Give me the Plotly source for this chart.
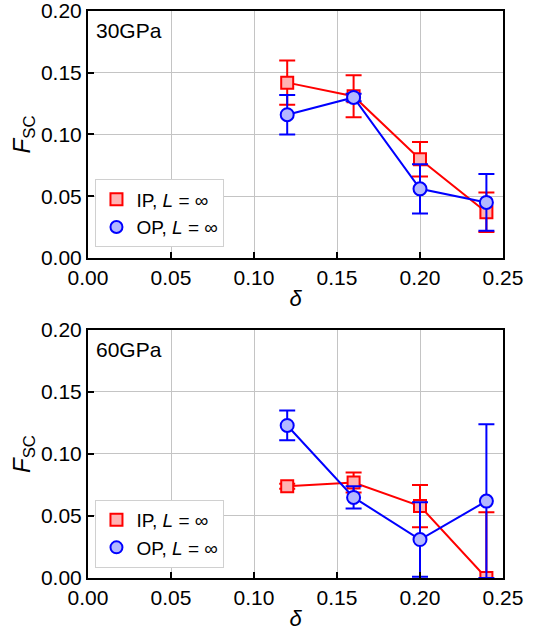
import plotly.graph_objects as go
from plotly.subplots import make_subplots

# doping levels
delta = [0.12, 0.16, 0.20, 0.24]

# 30 GPa
ip30 = [0.142, 0.131, 0.080, 0.037]
ip30_err = [0.018, 0.017, 0.014, 0.016]
op30 = [0.116, 0.130, 0.056, 0.045]
op30_err = [0.016, 0.003, 0.020, 0.023]

# 60 GPa
ip60 = [0.074, 0.077, 0.058, 0.0]
ip60_err = [0.002, 0.008, 0.017, 0.053]
op60 = [0.123, 0.065, 0.031, 0.062]
op60_err = [0.012, 0.009, 0.030, 0.062]

x_ticks = [0.00, 0.05, 0.10, 0.15, 0.20, 0.25]
y_ticks = [0.00, 0.05, 0.10, 0.15, 0.20]
panels = ["30GPa", "60GPa"]

RED, RED_FILL = "#ff0000", "#ffb3b3"
BLUE, BLUE_FILL = "#0000ff", "#b3b8ff"
FONT = "Liberation Sans, Arial, sans-serif"
LEG_LABEL_IP = "IP, <i>L</i> = ∞"
LEG_LABEL_OP = "OP, <i>L</i> = ∞"

fig = make_subplots(rows=2, cols=1, vertical_spacing=0.127)

series = [(ip30, ip30_err, op30, op30_err), (ip60, ip60_err, op60, op60_err)]
domains = [[0.5644, 1.0], [0.0, 0.4374]]
for i, (ip, ipe, op, ope) in enumerate(series):
    row = i + 1
    legend_name = "legend" if i == 0 else "legend2"
    fig.add_trace(go.Scatter(
        x=delta, y=ip, mode="lines+markers", showlegend=False,
        line=dict(color=RED, width=2),
        marker=dict(symbol="square", size=12, color=RED_FILL, line=dict(color=RED, width=2)),
        error_y=dict(type="data", array=ipe, color=RED, thickness=2, width=8),
    ), row=row, col=1)
    fig.add_trace(go.Scatter(
        x=delta, y=op, mode="lines+markers", showlegend=False,
        line=dict(color=BLUE, width=2),
        marker=dict(symbol="circle", size=13, color=BLUE_FILL, line=dict(color=BLUE, width=2)),
        error_y=dict(type="data", array=ope, color=BLUE, thickness=2, width=8),
    ), row=row, col=1)
    # legend entries (marker only)
    fig.add_trace(go.Scatter(
        x=[None], y=[None], mode="markers", name=LEG_LABEL_IP, legend=legend_name,
        marker=dict(symbol="square", size=12, color=RED_FILL, line=dict(color=RED, width=2)),
    ), row=row, col=1)
    fig.add_trace(go.Scatter(
        x=[None], y=[None], mode="markers", name=LEG_LABEL_OP, legend=legend_name,
        marker=dict(symbol="circle", size=13, color=BLUE_FILL, line=dict(color=BLUE, width=2)),
    ), row=row, col=1)

    fig.update_xaxes(
        range=[0, 0.25], tickvals=x_ticks, ticktext=[f"{v:.2f}" for v in x_ticks],
        showgrid=True, gridcolor="#c4c4c4", gridwidth=1,
        showline=True, linecolor="black", linewidth=2, mirror=True,
        ticks="inside", ticklen=6, tickwidth=1.5, tickcolor="black",
        zeroline=False, automargin=False, ticklabeloverflow="allow",
        tickfont=dict(size=21, color="black", family=FONT),
        title=dict(text="<i>δ</i>", font=dict(size=22, color="black", family=FONT), standoff=2),
        row=row, col=1,
    )
    fig.update_yaxes(
        range=[0, 0.20], tickvals=y_ticks, ticktext=[f"{v:.2f}" for v in y_ticks],
        showgrid=True, gridcolor="#c4c4c4", gridwidth=1,
        showline=True, linecolor="black", linewidth=2, mirror=True,
        ticks="inside", ticklen=6, tickwidth=1.5, tickcolor="black",
        zeroline=False, automargin=False, domain=domains[i], ticklabeloverflow="allow",
        tickfont=dict(size=21, color="black", family=FONT),
        title=dict(text="<i>F</i><sub>SC</sub>", font=dict(size=24, color="black", family=FONT), standoff=4),
        row=row, col=1,
    )
    xr = "x domain" if i == 0 else "x2 domain"
    yr = "y domain" if i == 0 else "y2 domain"
    fig.add_annotation(
        text=panels[i], xref=xr, yref=yr, x=0.015, y=0.975, xanchor="left", yanchor="top",
        showarrow=False, font=dict(size=21, color="black", family=FONT),
    )

legend_style = dict(
    bgcolor="white", bordercolor="#d0d0d0", borderwidth=1,
    font=dict(size=19, color="black", family=FONT),
    xanchor="left", yanchor="bottom", tracegroupgap=0, itemsizing="constant",
    itemwidth=30,
)
fig.update_layout(
    width=543, height=631,
    margin=dict(l=88, r=40, t=11, b=53),
    paper_bgcolor="white", plot_bgcolor="white",
    font=dict(family=FONT, color="black"),
    legend=dict(x=0.018, y=0.583, **legend_style),
    legend2=dict(x=0.018, y=0.018, **legend_style),
)

fig.write_html("out.html")
